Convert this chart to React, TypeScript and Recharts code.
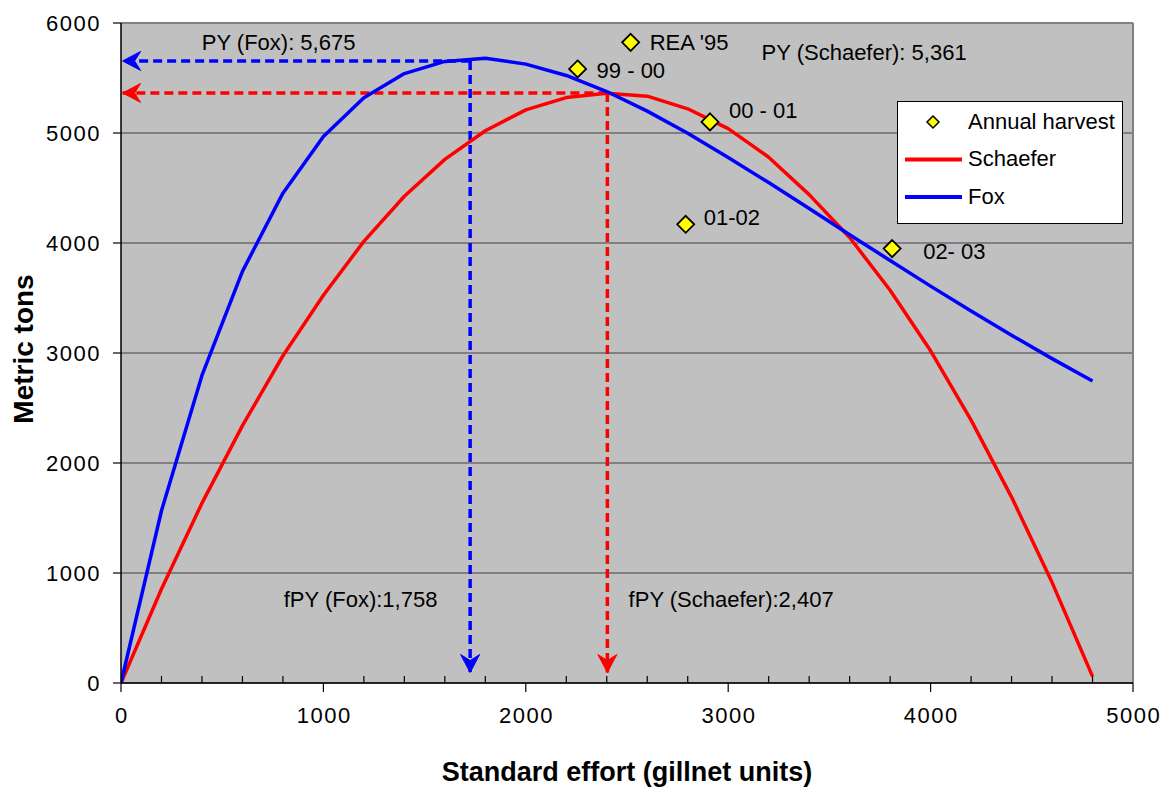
import React from "react";
import {
  ComposedChart,
  Line,
  Scatter,
  XAxis,
  YAxis,
  CartesianGrid,
  ReferenceLine,
  ReferenceDot,
  Legend,
  Label,
} from "recharts";

const effort = [0, 200, 400, 600, 800, 1000, 1200, 1400, 1600, 1800, 2000, 2200, 2400, 2600, 2800, 3000, 3200, 3400, 3600, 3800, 4000, 4200, 4400, 4600, 4800];
const schaefer = [0, 855, 1635, 2340, 2975, 3525, 4015, 4425, 4760, 5020, 5210, 5322, 5362, 5335, 5220, 5040, 4780, 4440, 4050, 3570, 3020, 2390, 1690, 915, 60];
const fox = [0, 1566, 2796, 3742, 4453, 4968, 5321, 5540, 5651, 5680, 5626, 5523, 5377, 5199, 4997, 4778, 4549, 4314, 4075, 3841, 3608, 3381, 3161, 2949, 2745];

const harvestEffort = [2518, 2256, 2910, 2790, 3810];
const harvestTons = [5824, 5582, 5101, 4170, 3949];
const harvestLabels = ["REA '95", "99 - 00", "00 - 01", "01-02", "02- 03"];

const xTicks = [0, 200, 400, 600, 800, 1000, 1200, 1400, 1600, 1800, 2000, 2200, 2400, 2600, 2800, 3000, 3200, 3400, 3600, 3800, 4000, 4200, 4400, 4600, 4800, 5000];
const yTicks = [0, 1000, 2000, 3000, 4000, 5000, 6000];

// optimum markers (effort, yield) as drawn
const foxOpt = { f: 1725, y: 5655 };
const schOpt = { f: 2403, y: 5364 };
const arrowTipX = 8;
const arrowTipY = 95;

const annotations = [
  { text: "PY (Fox): 5,675", x: 399, y: 5821 },
  { text: "PY (Schaefer): 5,361", x: 3165, y: 5730 },
  { text: "fPY (Fox):1,758", x: 804, y: 757 },
  { text: "fPY (Schaefer):2,407", x: 2508, y: 757 },
];

const labelOffsets: Record<string, { dx: number; dy: number }> = {
  "REA '95": { dx: 19, dy: 0 },
  "99 - 00": { dx: 19, dy: 1 },
  "00 - 01": { dx: 19, dy: -12 },
  "01-02": { dx: 18, dy: -7 },
  "02- 03": { dx: 31, dy: 3 },
};

const schaeferData = effort.map((f, i) => ({ x: f, y: schaefer[i] }));
const foxData = effort.map((f, i) => ({ x: f, y: fox[i] }));
const harvestData = harvestEffort.map((f, i) => ({ x: f, y: harvestTons[i], label: harvestLabels[i] }));

const foxH = [{ x: foxOpt.f, y: foxOpt.y }, { x: arrowTipX, y: foxOpt.y }];
const foxV = [{ x: foxOpt.f, y: foxOpt.y }, { x: foxOpt.f, y: arrowTipY }];
const schH = [{ x: schOpt.f, y: schOpt.y }, { x: arrowTipX, y: schOpt.y }];
const schV = [{ x: schOpt.f, y: schOpt.y }, { x: schOpt.f, y: arrowTipY }];

const FONT = "'Liberation Sans', Arial, sans-serif";
const BLUE = "#0000FF";
const RED = "#FF0000";
const YELLOW = "#FFFF00";

const legendItems = [
  { name: "Annual harvest", kind: "diamond", color: YELLOW },
  { name: "Schaefer", kind: "line", color: RED },
  { name: "Fox", kind: "line", color: BLUE },
];

const makeArrowDot = (dir: "left" | "down", color: string) => (props: any) => {
  const { cx, cy, index } = props;
  if (index !== 1 || cx == null || cy == null) return <g key={`a-${index}`} />;
  const pts =
    dir === "left"
      ? `${cx},${cy} ${cx + 18},${cy - 9.5} ${cx + 12},${cy} ${cx + 18},${cy + 9.5}`
      : `${cx},${cy} ${cx - 9.5},${cy - 18} ${cx},${cy - 12} ${cx + 9.5},${cy - 18}`;
  return <polygon key={`a-${index}`} points={pts} fill={color} stroke={color} strokeWidth={1} strokeLinejoin="round" />;
};

const DiamondShape = (props: any) => {
  const { cx, cy } = props;
  const label = props.payload?.label ?? props.label;
  const off = labelOffsets[label] || { dx: 19, dy: 0 };
  const s = 8.5;
  return (
    <g>
      <polygon
        points={`${cx},${cy - s} ${cx + s},${cy} ${cx},${cy + s} ${cx - s},${cy}`}
        fill={YELLOW}
        stroke="#000"
        strokeWidth={1.8}
      />
      <text x={cx + off.dx} y={cy + off.dy} dy="0.35em" fontSize={22} fontFamily={FONT} fill="#000">
        {label}
      </text>
    </g>
  );
};

const XTick = (props: any) => {
  const { x, y, payload } = props;
  const v = payload.value;
  const major = v % 1000 === 0;
  return (
    <g>
      {major ? (
        <line x1={x} y1={y} x2={x} y2={y + 9} stroke="#000" strokeWidth={1.2} />
      ) : (
        <line x1={x} y1={y} x2={x} y2={y - 7} stroke="#000" strokeWidth={1.2} />
      )}
      {major && (
        <text x={x + 0.75} y={y + 24} dy="0.71em" textAnchor="middle" fontSize={22} letterSpacing={1.5} fontFamily={FONT} fill="#000">
          {v}
        </text>
      )}
    </g>
  );
};

const LegendBox = () => (
  <svg width={226} height={123} style={{ display: "block" }}>
    <rect x={0.5} y={0.5} width={225} height={122} fill="#fff" stroke="#000" strokeWidth={1} />
    {legendItems.map((it, i) => {
      const cy = 21 + i * 37.5;
      return (
        <g key={it.name}>
          {it.kind === "diamond" ? (
            <polygon
              points={`36,${cy - 6} 42,${cy} 36,${cy + 6} 30,${cy}`}
              fill={it.color}
              stroke="#000"
              strokeWidth={1.5}
            />
          ) : (
            <line x1={8} y1={cy} x2={65} y2={cy} stroke={it.color} strokeWidth={4} />
          )}
          <text x={71} y={cy - 1} dy="0.35em" fontSize={22} fontFamily={FONT} fill="#000">
            {it.name}
          </text>
        </g>
      );
    })}
  </svg>
);

const AnnotationShape = (text: string) => (props: any) => (
  <text x={props.cx} y={props.cy} dy="0.35em" fontSize={22} fontFamily={FONT} fill="#000">
    {text}
  </text>
);

export default function App() {
  return (
    <div style={{ position: "absolute", left: 0, top: 0, width: 1173, height: 790, background: "#fff" }}>
      <ComposedChart
        width={1173}
        height={790}
        margin={{ top: 23, right: 40, bottom: 0, left: 0 }}
        style={{ fontFamily: FONT }}
      >
        <CartesianGrid vertical={false} stroke="#404040" strokeWidth={1} fill="#C0C0C0" fillOpacity={1} />
        <XAxis
          type="number"
          dataKey="x"
          domain={[0, 5000]}
          ticks={xTicks}
          interval={0}
          height={107}
          tickSize={0}
          tickMargin={0}
          tickLine={false}
          tick={<XTick />}
          axisLine={{ stroke: "#000", strokeWidth: 1.5 }}
          allowDataOverflow
        >
          <Label
            content={(p: any) => {
              const vb = p.viewBox;
              return (
                <text
                  x={vb.x + vb.width / 2}
                  y={vb.y + 89}
                  dy="0.35em"
                  textAnchor="middle"
                  fontSize={27}
                  fontWeight="bold"
                  fontFamily={FONT}
                  fill="#000"
                >
                  Standard effort (gillnet units)
                </text>
              );
            }}
          />
        </XAxis>
        <YAxis
          type="number"
          dataKey="y"
          domain={[0, 6000]}
          ticks={yTicks}
          interval={0}
          width={121}
          tickSize={8}
          tickMargin={12}
          tick={{ fontSize: 22, fill: "#000", fontFamily: FONT, letterSpacing: 1.5 }}
          tickLine={{ stroke: "#000", strokeWidth: 1.2 }}
          axisLine={{ stroke: "#000", strokeWidth: 1.5 }}
          allowDataOverflow
        >
          <Label
            content={(p: any) => {
              const vb = p.viewBox;
              const cx = 23;
              const cy = vb.y + vb.height / 2 - 4;
              return (
                <text
                  x={cx}
                  y={cy}
                  dy="0.35em"
                  textAnchor="middle"
                  transform={`rotate(-90 ${cx} ${cy})`}
                  fontSize={28}
                  fontWeight="bold"
                  fontFamily={FONT}
                  fill="#000"
                >
                  Metric tons
                </text>
              );
            }}
          />
        </YAxis>
        <ReferenceLine y={6000} stroke="#808080" strokeWidth={2} ifOverflow="extendDomain" />
        <ReferenceLine x={5000} stroke="#808080" strokeWidth={2} ifOverflow="extendDomain" />

        <Line data={foxH} dataKey="y" type="linear" stroke={BLUE} strokeWidth={3.5} strokeDasharray="9 5" dot={makeArrowDot("left", BLUE)} activeDot={false} isAnimationActive={false} legendType="none" />
        <Line data={foxV} dataKey="y" type="linear" stroke={BLUE} strokeWidth={3.5} strokeDasharray="9 5" dot={makeArrowDot("down", BLUE)} activeDot={false} isAnimationActive={false} legendType="none" />
        <Line data={schH} dataKey="y" type="linear" stroke={RED} strokeWidth={3.5} strokeDasharray="9 5" dot={makeArrowDot("left", RED)} activeDot={false} isAnimationActive={false} legendType="none" />
        <Line data={schV} dataKey="y" type="linear" stroke={RED} strokeWidth={3.5} strokeDasharray="9 5" dot={makeArrowDot("down", RED)} activeDot={false} isAnimationActive={false} legendType="none" />

        <Line data={schaeferData} dataKey="y" name="Schaefer" type="linear" stroke={RED} strokeWidth={3.5} dot={false} activeDot={false} isAnimationActive={false} strokeLinejoin="round" />
        <Line data={foxData} dataKey="y" name="Fox" type="linear" stroke={BLUE} strokeWidth={3.5} dot={false} activeDot={false} isAnimationActive={false} strokeLinejoin="round" />

        <Scatter data={harvestData} dataKey="y" name="Annual harvest" shape={<DiamondShape />} isAnimationActive={false} />

        {annotations.map((a) => (
          <ReferenceDot key={a.text} x={a.x} y={a.y} r={0} shape={AnnotationShape(a.text)} ifOverflow="visible" />
        ))}

        <Legend
          layout="horizontal"
          verticalAlign="middle"
          align="center"
          wrapperStyle={{ left: 897, top: 101, width: 226, height: 123 }}
          content={() => <LegendBox />}
        />
      </ComposedChart>
    </div>
  );
}
